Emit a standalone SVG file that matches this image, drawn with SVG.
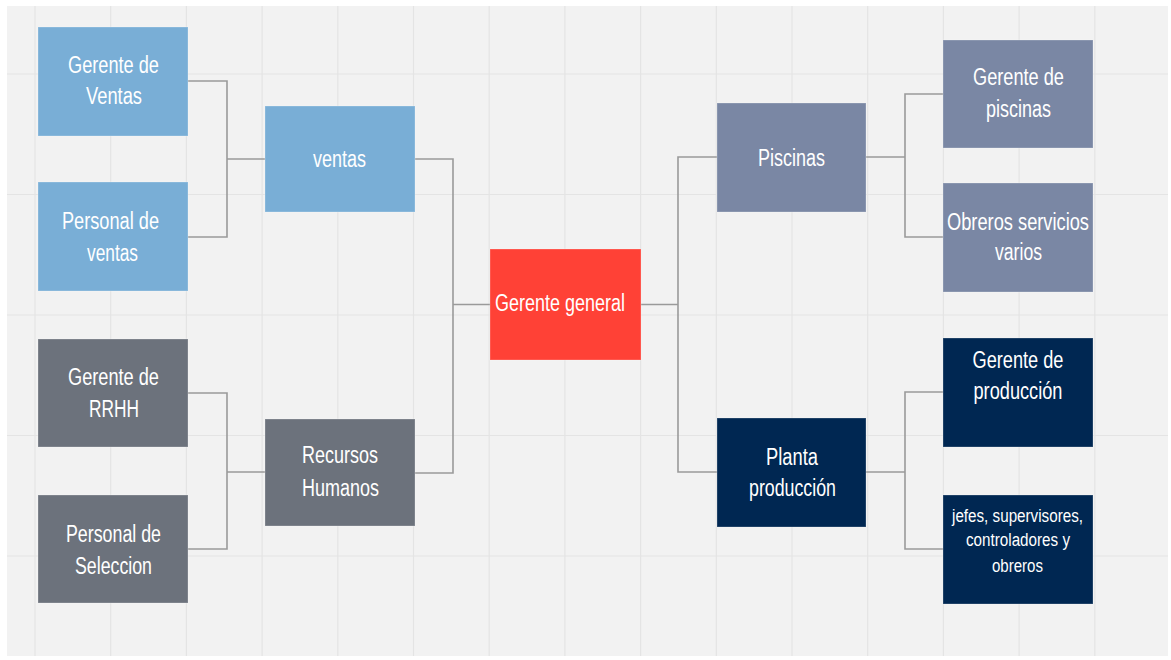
<svg xmlns="http://www.w3.org/2000/svg" width="1171" height="660" viewBox="0 0 1171 660">
<style>
.grid line{stroke:#e4e4e4;stroke-width:1.2}
.conn path{fill:none;stroke:#9a9a9a;stroke-width:1.6}
.box{stroke:rgba(255,255,255,0.25);stroke-width:1}
.t{font-family:"Liberation Sans",Arial,sans-serif;font-size:23px;fill:#ffffff;text-anchor:middle}
.s{font-family:"Liberation Sans",Arial,sans-serif;font-size:18px;fill:#ffffff;text-anchor:middle}
.blue{fill:#79aed6}
.gray{fill:#6c727c}
.slate{fill:#7a87a4}
.navy{fill:#002752}
.red{fill:#ff4136}
</style>
<rect x="0" y="0" width="1171" height="660" fill="#ffffff"/>
<rect x="7" y="6" width="1161" height="650" fill="#f2f2f2"/>
<g class="grid">
<line x1="35" y1="6" x2="35" y2="656"/>
<line x1="110.7" y1="6" x2="110.7" y2="656"/>
<line x1="186.4" y1="6" x2="186.4" y2="656"/>
<line x1="262.1" y1="6" x2="262.1" y2="656"/>
<line x1="337.8" y1="6" x2="337.8" y2="656"/>
<line x1="413.5" y1="6" x2="413.5" y2="656"/>
<line x1="489.2" y1="6" x2="489.2" y2="656"/>
<line x1="564.9" y1="6" x2="564.9" y2="656"/>
<line x1="640.6" y1="6" x2="640.6" y2="656"/>
<line x1="716.3" y1="6" x2="716.3" y2="656"/>
<line x1="792" y1="6" x2="792" y2="656"/>
<line x1="867.7" y1="6" x2="867.7" y2="656"/>
<line x1="943.4" y1="6" x2="943.4" y2="656"/>
<line x1="1019.1" y1="6" x2="1019.1" y2="656"/>
<line x1="1094.8" y1="6" x2="1094.8" y2="656"/>
<line x1="7" y1="74" x2="1168" y2="74"/>
<line x1="7" y1="194.5" x2="1168" y2="194.5"/>
<line x1="7" y1="315" x2="1168" y2="315"/>
<line x1="7" y1="435.5" x2="1168" y2="435.5"/>
<line x1="7" y1="556" x2="1168" y2="556"/>
</g>
<g class="conn" id="connectors">
<path d="M188 81H227V237H188M227 159H265"/>
<path d="M188 393H227V549H188M227 472H265"/>
<path d="M415 159H453V473H415M453 304.5H490"/>
<path d="M641 304.5H678M717 157H678V472H717"/>
<path d="M866 157H905M943 94H905V237H943"/>
<path d="M866 472H905M943 392H905V549H943"/>
</g>
<g id="gerente-ventas">
<rect class="box blue" x="38" y="27" width="150" height="109"/>
<text class="t" x="113.5" y="73" textLength="91" lengthAdjust="spacingAndGlyphs">Gerente de</text>
<text class="t" x="114" y="104" textLength="56" lengthAdjust="spacingAndGlyphs">Ventas</text>
</g>
<g id="personal-ventas">
<rect class="box blue" x="38" y="182" width="150" height="109"/>
<text class="t" x="110.5" y="229" textLength="97" lengthAdjust="spacingAndGlyphs">Personal de</text>
<text class="t" x="112.5" y="261" textLength="51" lengthAdjust="spacingAndGlyphs">ventas</text>
</g>
<g id="ventas">
<rect class="box blue" x="265" y="106" width="150" height="106"/>
<text class="t" x="339.5" y="167" textLength="53" lengthAdjust="spacingAndGlyphs">ventas</text>
</g>
<g id="gerente-rrhh">
<rect class="box gray" x="38" y="339" width="150" height="108"/>
<text class="t" x="113.5" y="385" textLength="91" lengthAdjust="spacingAndGlyphs">Gerente de</text>
<text class="t" x="114" y="417" textLength="50" lengthAdjust="spacingAndGlyphs">RRHH</text>
</g>
<g id="personal-seleccion">
<rect class="box gray" x="38" y="495" width="150" height="108"/>
<text class="t" x="113.5" y="542" textLength="95" lengthAdjust="spacingAndGlyphs">Personal de</text>
<text class="t" x="113.5" y="574" textLength="77" lengthAdjust="spacingAndGlyphs">Seleccion</text>
</g>
<g id="recursos-humanos">
<rect class="box gray" x="265" y="419" width="150" height="107"/>
<text class="t" x="340" y="463" textLength="76" lengthAdjust="spacingAndGlyphs">Recursos</text>
<text class="t" x="340.5" y="496" textLength="77" lengthAdjust="spacingAndGlyphs">Humanos</text>
</g>
<g id="gerente-general">
<rect class="box red" x="490" y="249" width="151" height="111"/>
<text class="t" x="560" y="311" textLength="130" lengthAdjust="spacingAndGlyphs">Gerente general</text>
</g>
<g id="piscinas">
<rect class="box slate" x="717" y="103" width="149" height="109"/>
<text class="t" x="791.5" y="166" textLength="67" lengthAdjust="spacingAndGlyphs">Piscinas</text>
</g>
<g id="gerente-piscinas">
<rect class="box slate" x="943" y="40" width="150" height="108"/>
<text class="t" x="1018.5" y="85" textLength="91" lengthAdjust="spacingAndGlyphs">Gerente de</text>
<text class="t" x="1018.5" y="117" textLength="65" lengthAdjust="spacingAndGlyphs">piscinas</text>
</g>
<g id="obreros-servicios">
<rect class="box slate" x="943" y="183" width="150" height="109"/>
<text class="t" x="1018" y="230" textLength="142" lengthAdjust="spacingAndGlyphs">Obreros servicios</text>
<text class="t" x="1018.5" y="260" textLength="47" lengthAdjust="spacingAndGlyphs">varios</text>
</g>
<g id="planta-produccion">
<rect class="box navy" x="717" y="418" width="149" height="109"/>
<text class="t" x="792" y="465" textLength="52" lengthAdjust="spacingAndGlyphs">Planta</text>
<text class="t" x="792.5" y="496" textLength="87" lengthAdjust="spacingAndGlyphs">producción</text>
</g>
<g id="gerente-produccion">
<rect class="box navy" x="943" y="338" width="150" height="109"/>
<text class="t" x="1018" y="368" textLength="91" lengthAdjust="spacingAndGlyphs">Gerente de</text>
<text class="t" x="1018" y="399" textLength="89" lengthAdjust="spacingAndGlyphs">producción</text>
</g>
<g id="jefes-supervisores">
<rect class="box navy" x="943" y="495" width="150" height="109"/>
<text class="s" x="1017.5" y="522" textLength="131" lengthAdjust="spacingAndGlyphs">jefes, supervisores,</text>
<text class="s" x="1018" y="546" textLength="104" lengthAdjust="spacingAndGlyphs">controladores y</text>
<text class="s" x="1017.5" y="572" textLength="51" lengthAdjust="spacingAndGlyphs">obreros</text>
</g>
</svg>
